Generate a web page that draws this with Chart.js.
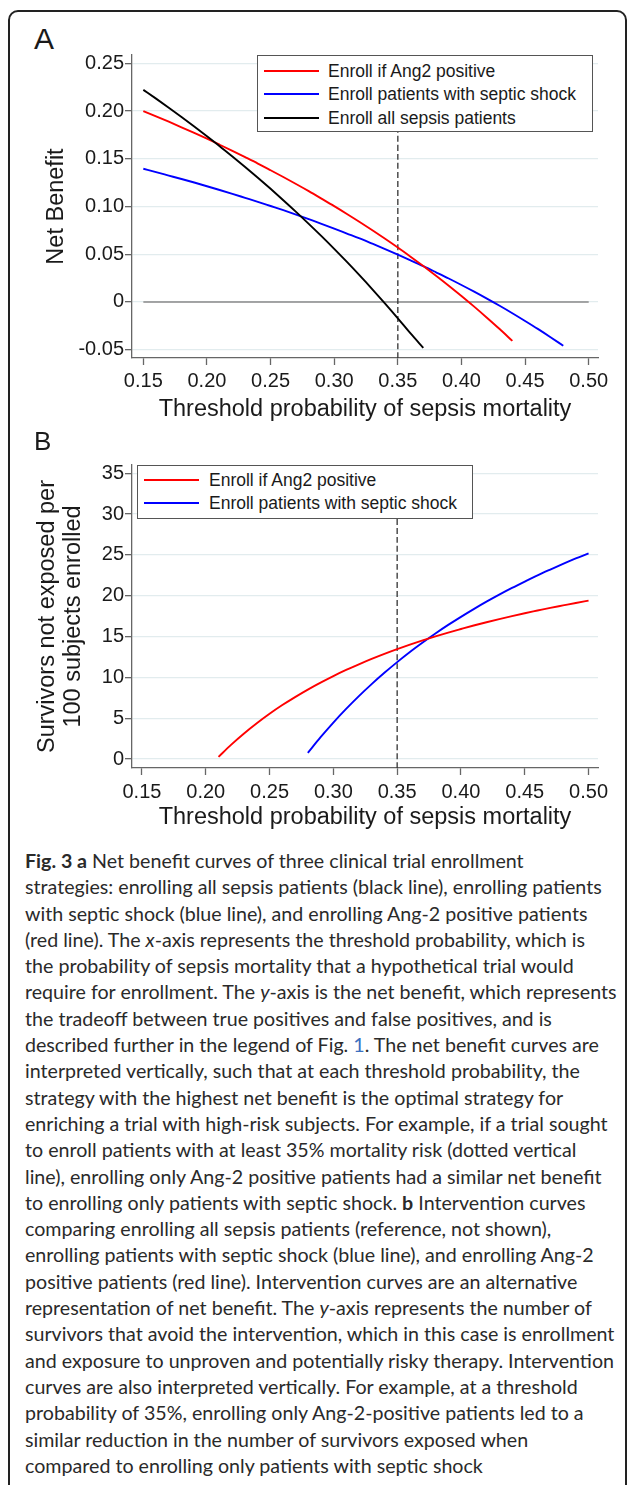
<!DOCTYPE html>
<html>
<head>
<meta charset="utf-8">
<script src="https://cdn.jsdelivr.net/npm/chart.js@4.4.0/dist/chart.umd.min.js"></script>
<style>
  html, body { margin: 0; padding: 0; background: #fff; }
  #page { position: relative; width: 627px; height: 1485px; overflow: hidden; background: #fff;
          font-family: "Liberation Sans", Arial, sans-serif; color: #1a1a1a; }
  #frame { position: absolute; left: 8px; top: 10px; width: 619px; height: 1600px; box-sizing: border-box;
           border: 2px solid #222; border-radius: 10px; }
  .panel-label { position: absolute; left: 34px; line-height: 1; }
  canvas { position: absolute; left: 0; }
  .legend { position: absolute; background: #fff; border: 1.3px solid #555; box-sizing: border-box; }
  .legend .swatch { position: absolute; width: 55px; height: 0; border-top: 2px solid; }
  .legend .txt { position: absolute; font-size: 17.5px; line-height: 24px; white-space: nowrap; }
  #caption { position: absolute; left: 25px; top: 848px; font-family: Lato, sans-serif; color: #2a2a2a; }
  #caption div { height: 26.3px; line-height: 26.3px; white-space: nowrap; }
  #caption .ref { color: #3b6fc0; }
</style>
</head>
<body>
<div id="page">
  <div id="frame"></div>
  <div class="panel-label" style="top:24px; font-size:30px;">A</div>
  <canvas id="chartA" width="627" height="390" style="top:40px"></canvas>
  <div class="panel-label" style="top:428px; font-size:26px;">B</div>
  <canvas id="chartB" width="627" height="395" style="top:450px"></canvas>
  <div id="caption"></div>
</div>
<script>
const FONT = '"Liberation Sans", Arial, sans-serif';
const TEXT = '#1a1a1a';

// threshold probabilities (x axis)
const thresholds = [0.15, 0.16, 0.17, 0.18, 0.19, 0.20, 0.21, 0.22, 0.23, 0.24, 0.25, 0.26,
  0.27, 0.28, 0.29, 0.30, 0.31, 0.32, 0.33, 0.34, 0.35, 0.36, 0.37, 0.38, 0.39, 0.40, 0.41,
  0.42, 0.43, 0.44, 0.45, 0.46, 0.47, 0.48, 0.49, 0.50];
const xTicks = [0.15, 0.20, 0.25, 0.30, 0.35, 0.40, 0.45, 0.50];
const xTickLabels = ['0.15', '0.20', '0.25', '0.30', '0.35', '0.40', '0.45', '0.50'];
const refThreshold = 0.35;

// panel A: net benefit
const seriesNamesA = ['Enroll if Ang2 positive', 'Enroll patients with septic shock', 'Enroll all sepsis patients'];
const nbAng2 = [0.2000, 0.1945, 0.1888, 0.1830, 0.1771, 0.1710, 0.1647, 0.1583, 0.1517, 0.1450,
  0.1380, 0.1309, 0.1236, 0.1161, 0.1083, 0.1004, 0.0922, 0.0838, 0.0751, 0.0662, 0.0570, 0.0474,
  0.0376, 0.0275, 0.0171, 0.0063, -0.0049, -0.0165, -0.0284, -0.0408, null, null, null, null, null, null];
const nbShock = [0.1395, 0.1360, 0.1324, 0.1288, 0.1251, 0.1212, 0.1173, 0.1133, 0.1091, 0.1049,
  0.1005, 0.0961, 0.0915, 0.0867, 0.0819, 0.0769, 0.0717, 0.0665, 0.0610, 0.0554, 0.0496, 0.0436,
  0.0375, 0.0311, 0.0246, 0.0178, 0.0108, 0.0035, -0.0040, -0.0118, -0.0199, -0.0282, -0.0369, -0.0459,
  null, null];
const nbAll = [0.2222, 0.2130, 0.2035, 0.1938, 0.1838, 0.1736, 0.1632, 0.1524, 0.1414, 0.1301,
  0.1185, 0.1066, 0.0944, 0.0818, 0.0689, 0.0556, 0.0419, 0.0278, 0.0133, -0.0017, -0.0171, -0.0330,
  -0.0480, null, null, null, null, null, null, null, null, null, null, null, null, null];
const yTicksA = [-0.05, 0, 0.05, 0.10, 0.15, 0.20, 0.25];
const yTickLabelsA = ['-0.05', '0', '0.05', '0.10', '0.15', '0.20', '0.25'];

// panel B: survivors not exposed per 100 enrolled
const seriesNamesB = ['Enroll if Ang2 positive', 'Enroll patients with septic shock'];
const survAng2 = [null, null, null, null, null, null, 0.26, 1.76, 3.13, 4.38, 5.54, 6.61, 7.59,
  8.51, 9.36, 10.16, 10.91, 11.60, 12.26, 12.88, 13.46, 14.01, 14.53, 15.02, 15.49, 15.93, 16.36,
  16.76, 17.14, 17.51, 17.86, 18.19, 18.52, 18.82, 19.12, 19.40];
const survShock = [null, null, null, null, null, null, null, null, null, null, null, null, null,
  0.76, 2.68, 4.47, 6.14, 7.71, 9.18, 10.56, 11.87, 13.11, 14.27, 15.38, 16.43, 17.42, 18.37,
  19.28, 20.14, 20.96, 21.74, 22.50, 23.21, 23.90, 24.57, 25.20];
const yTicksB = [0, 5, 10, 15, 20, 25, 30, 35];
const yTickLabelsB = ['0', '5', '10', '15', '20', '25', '30', '35'];

const colorsA = ['#ff0000', '#0000ff', '#000000'];
const colorsB = ['#ff0000', '#0000ff'];

const toPoints = vals => thresholds.map((x, i) => ({ x: x, y: vals[i] }));

function curve(vals, color) {
  return { data: toPoints(vals), borderColor: color, borderWidth: 1.9, fill: false };
}

function refLine(yMin, yMax) {
  return { data: [{ x: refThreshold, y: yMin }, { x: refThreshold, y: yMax }],
           borderColor: '#333', borderWidth: 1.3, borderDash: [6, 3], fill: false };
}

function buildChart(id, cfg) {
  return new Chart(document.getElementById(id), {
    type: 'line',
    data: { datasets: cfg.datasets },
    options: {
      responsive: false,
      animation: false,
      devicePixelRatio: 1,
      layout: { padding: { top: 15, right: 29, left: 0, bottom: 0 } },
      plugins: { legend: { display: false }, tooltip: { enabled: false } },
      elements: { point: { radius: 0 }, line: { cubicInterpolationMode: 'monotone' } },
      scales: {
        x: {
          type: 'linear',
          min: cfg.xMin, max: cfg.xMax,
          afterBuildTicks: s => { s.ticks = xTicks.map(v => ({ value: v })); },
          afterFit: s => { s.height = cfg.xAxisHeight; },
          grid: { drawOnChartArea: false, tickLength: 7, tickColor: '#666', tickWidth: 1.3 },
          border: { color: '#666', width: 1.3 },
          ticks: { padding: cfg.xTickPad, color: TEXT, font: { family: FONT, size: 20 },
                   maxRotation: 0, autoSkip: false, callback: (v, i) => xTickLabels[i] },
          title: { display: true, text: 'Threshold probability of sepsis mortality', color: TEXT,
                   font: { family: FONT, size: 23.5 }, padding: { top: 0, bottom: cfg.xTitlePad } }
        },
        y: {
          type: 'linear',
          min: cfg.yMin, max: cfg.yMax,
          afterBuildTicks: s => { s.ticks = cfg.yTicks.map(v => ({ value: v })); },
          afterFit: s => { s.width = 132; },
          grid: { color: '#e2ecee', lineWidth: 1.3, tickLength: 7, tickColor: '#666', tickWidth: 1.3 },
          border: { color: '#666', width: 1.3 },
          ticks: { padding: 1, color: TEXT, font: { family: FONT, size: 20 },
                   autoSkip: false, callback: (v, i) => cfg.yTickLabels[i] },
          title: { display: true, text: cfg.yTitle, color: TEXT,
                   font: { family: FONT, size: 23.5, lineHeight: cfg.yTitleLH },
                   padding: { top: cfg.yTitlePad, bottom: 0 } }
        }
      }
    }
  });
}

// panel A
const yMinA = -0.0587, yMaxA = 0.2587;
buildChart('chartA', {
  datasets: [
    curve(nbAll, colorsA[2]),
    curve(nbAng2, colorsA[0]),
    curve(nbShock, colorsA[1]),
    refLine(yMinA, yMaxA),
    { data: [{ x: xTicks[0], y: 0 }, { x: xTicks[xTicks.length - 1], y: 0 }],
      borderColor: '#8a8a8a', borderWidth: 1.5, fill: false }
  ],
  xMin: 0.1411, xMax: 0.5073, yMin: yMinA, yMax: yMaxA,
  yTicks: yTicksA, yTickLabels: yTickLabelsA,
  xAxisHeight: 72, xTickPad: 4, xTitlePad: 6,
  yTitle: 'Net Benefit', yTitleLH: 1.2, yTitlePad: 42
});

// panel B
const yMinB = -1.1, yMaxB = 36.02;
buildChart('chartB', {
  datasets: [
    curve(survAng2, colorsB[0]),
    curve(survShock, colorsB[1]),
    refLine(yMinB, yMaxB)
  ],
  xMin: 0.1422, xMax: 0.5074, yMin: yMinB, yMax: yMaxB,
  yTicks: yTicksB, yTickLabels: yTickLabelsB,
  xAxisHeight: 77, xTickPad: 5, xTitlePad: 13,
  yTitle: ['Survivors not exposed per', '100 subjects enrolled'], yTitleLH: 1.1, yTitlePad: 35
});

// legends (HTML boxes over the plot area)
function addLegend(names, colors, box) {
  const el = document.createElement('div');
  el.className = 'legend';
  el.style.left = box.left + 'px';
  el.style.top = box.top + 'px';
  el.style.width = box.width + 'px';
  el.style.height = box.height + 'px';
  names.forEach((name, i) => {
    const cy = box.firstRow + i * box.rowStep;
    const sw = document.createElement('div');
    sw.className = 'swatch';
    sw.style.left = '6px';
    sw.style.top = (cy - 2) + 'px';
    sw.style.borderTopColor = colors[i];
    const tx = document.createElement('div');
    tx.className = 'txt';
    tx.style.left = box.textLeft + 'px';
    tx.style.top = (cy - 13) + 'px';
    tx.textContent = name;
    el.appendChild(sw);
    el.appendChild(tx);
  });
  document.getElementById('page').appendChild(el);
}
addLegend(seriesNamesA, colorsA, { left: 257, top: 55, width: 336, height: 77, firstRow: 15.5, rowStep: 23.8, textLeft: 70 });
addLegend(seriesNamesB, colorsB, { left: 137, top: 465, width: 336, height: 54, firstRow: 15, rowStep: 23.3, textLeft: 71 });

// caption
const captionLines = [
  '<b>Fig. 3 a</b> Net benefit curves of three clinical trial enrollment',
  'strategies: enrolling all sepsis patients (black line), enrolling patients',
  'with septic shock (blue line), and enrolling Ang-2 positive patients',
  '(red line). The <i>x</i>-axis represents the threshold probability, which is',
  'the probability of sepsis mortality that a hypothetical trial would',
  'require for enrollment. The <i>y</i>-axis is the net benefit, which represents',
  'the tradeoff between true positives and false positives, and is',
  'described further in the legend of Fig. <span class="ref">1</span>. The net benefit curves are',
  'interpreted vertically, such that at each threshold probability, the',
  'strategy with the highest net benefit is the optimal strategy for',
  'enriching a trial with high-risk subjects. For example, if a trial sought',
  'to enroll patients with at least 35% mortality risk (dotted vertical',
  'line), enrolling only Ang-2 positive patients had a similar net benefit',
  'to enrolling only patients with septic shock. <b>b</b> Intervention curves',
  'comparing enrolling all sepsis patients (reference, not shown),',
  'enrolling patients with septic shock (blue line), and enrolling Ang-2',
  'positive patients (red line). Intervention curves are an alternative',
  'representation of net benefit. The <i>y</i>-axis represents the number of',
  'survivors that avoid the intervention, which in this case is enrollment',
  'and exposure to unproven and potentially risky therapy. Intervention',
  'curves are also interpreted vertically. For example, at a threshold',
  'probability of 35%, enrolling only Ang-2-positive patients led to a',
  'similar reduction in the number of survivors exposed when',
  'compared to enrolling only patients with septic shock'
];
const cap = document.getElementById('caption');
cap.style.fontSize = '18px';
captionLines.forEach(html => {
  const d = document.createElement('div');
  d.innerHTML = '<span>' + html + '</span>';
  cap.appendChild(d);
});
// fit the font so line 2 spans the same width as in the figure
const w = cap.children[1].firstChild.getBoundingClientRect().width;
cap.style.fontSize = (18 * 577 / w).toFixed(2) + 'px';
</script>
</body>
</html>
